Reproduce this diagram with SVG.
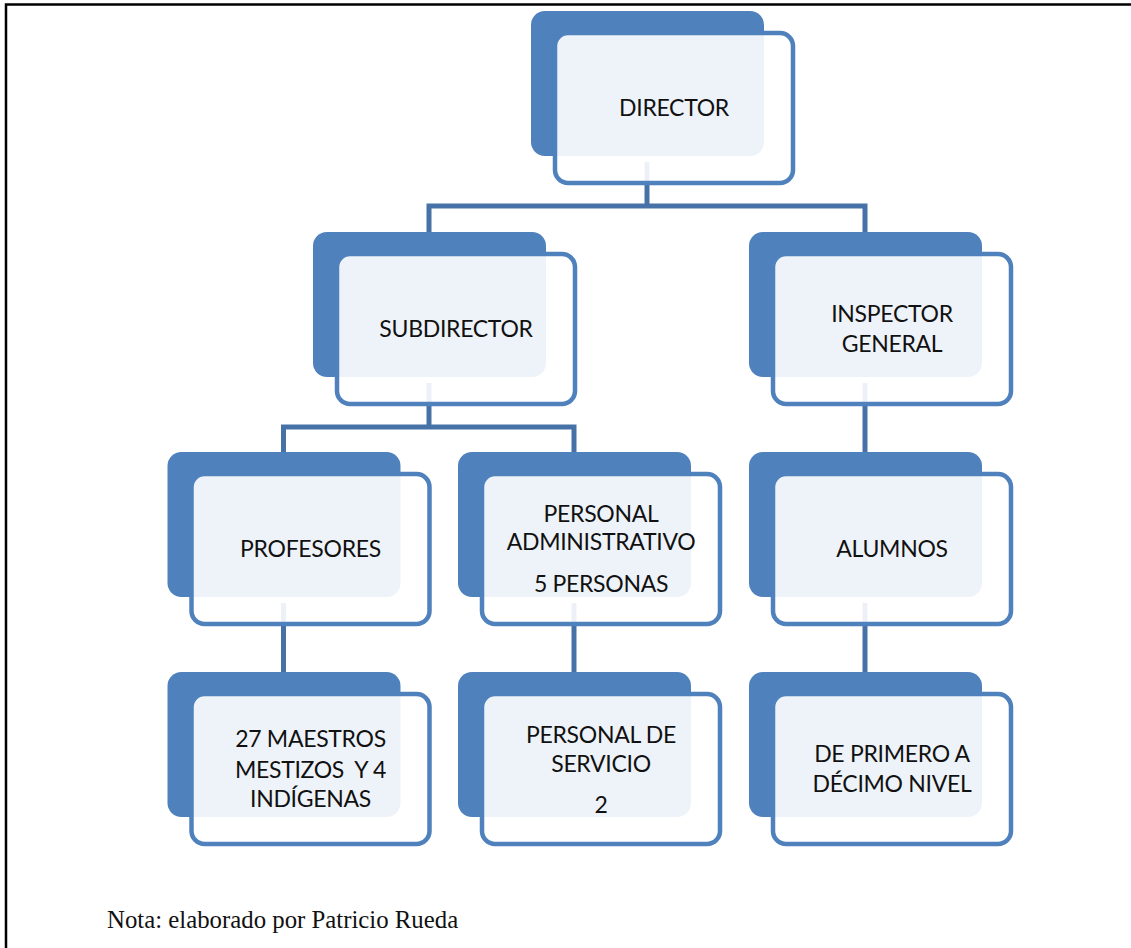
<svg xmlns="http://www.w3.org/2000/svg" width="1131" height="948" viewBox="0 0 1131 948">
  <style>
    .back { fill: #4F81BD; }
    .front { fill: #FFFFFF; fill-opacity: 0.9; stroke: #4F81BD; stroke-width: 4.5; }
    .lbl { font-family: Lato, "Open Sans", "Liberation Sans", sans-serif; font-size: 23px; letter-spacing: -0.3px; fill: #111111; text-anchor: middle; }
    .wire { fill: none; stroke: #4672A8; stroke-width: 5; stroke-linejoin: miter; }
    .frame { stroke: #000000; stroke-width: 2.5; fill: none; }
    .note { font-family: "Liberation Serif", "Times New Roman", serif; font-size: 24.8px; fill: #111111; }
  </style>
  <defs>
    <g id="card">
      <rect class="back" x="0" y="0" width="233" height="145" rx="14"/>
      <rect class="front" x="24" y="22" width="238" height="150" rx="13"/>
    </g>
  </defs>

  <rect x="0" y="0" width="1131" height="948" fill="#FFFFFF"/>

  <!-- page frame (top and left rules) -->
  <path class="frame" d="M6 948 V4.5 H1131"/>

  <!-- connectors -->
  <g id="connectors">
    <path class="wire" d="M647 162 V206"/>
    <path class="wire" d="M429 232 V206 H865 V232"/>
    <path class="wire" d="M429 383 V427"/>
    <path class="wire" d="M283.5 452 V427 H574 V452"/>
    <path class="wire" d="M865 383 V452"/>
    <path class="wire" d="M283.5 603 V672"/>
    <path class="wire" d="M574 603 V672"/>
    <path class="wire" d="M865 603 V672"/>
  </g>

  <g id="director" transform="translate(531,11)">
    <use href="#card"/>
    <text class="lbl" x="143" y="105">DIRECTOR</text>
  </g>

  <g id="subdirector" transform="translate(313,232)">
    <use href="#card"/>
    <text class="lbl" x="143" y="105">SUBDIRECTOR</text>
  </g>

  <g id="inspector" transform="translate(749,232)">
    <use href="#card"/>
    <text class="lbl" x="143" y="90">INSPECTOR</text>
    <text class="lbl" x="143" y="120">GENERAL</text>
  </g>

  <g id="profesores" transform="translate(167.5,452)">
    <use href="#card"/>
    <text class="lbl" x="143" y="105">PROFESORES</text>
  </g>

  <g id="personal-administrativo" transform="translate(458,452)">
    <use href="#card"/>
    <text class="lbl" x="143" y="70">PERSONAL</text>
    <text class="lbl" x="143" y="98">ADMINISTRATIVO</text>
    <text class="lbl" x="143" y="140">5 PERSONAS</text>
  </g>

  <g id="alumnos" transform="translate(749,452)">
    <use href="#card"/>
    <text class="lbl" x="143" y="105">ALUMNOS</text>
  </g>

  <g id="maestros" transform="translate(167.5,672)">
    <use href="#card"/>
    <text class="lbl" x="143" y="75">27 MAESTROS</text>
    <text class="lbl" x="143" y="106" xml:space="preserve">MESTIZOS  Y 4</text>
    <text class="lbl" x="143" y="135">INDÍGENAS</text>
  </g>

  <g id="personal-servicio" transform="translate(458,672)">
    <use href="#card"/>
    <text class="lbl" x="143" y="71">PERSONAL DE</text>
    <text class="lbl" x="143" y="100">SERVICIO</text>
    <text class="lbl" x="143" y="141">2</text>
  </g>

  <g id="nivel" transform="translate(749,672)">
    <use href="#card"/>
    <text class="lbl" x="143" y="90">DE PRIMERO A</text>
    <text class="lbl" x="143" y="120">DÉCIMO NIVEL</text>
  </g>

  <text class="note" x="107" y="928">Nota: elaborado por Patricio Rueda</text>
</svg>
